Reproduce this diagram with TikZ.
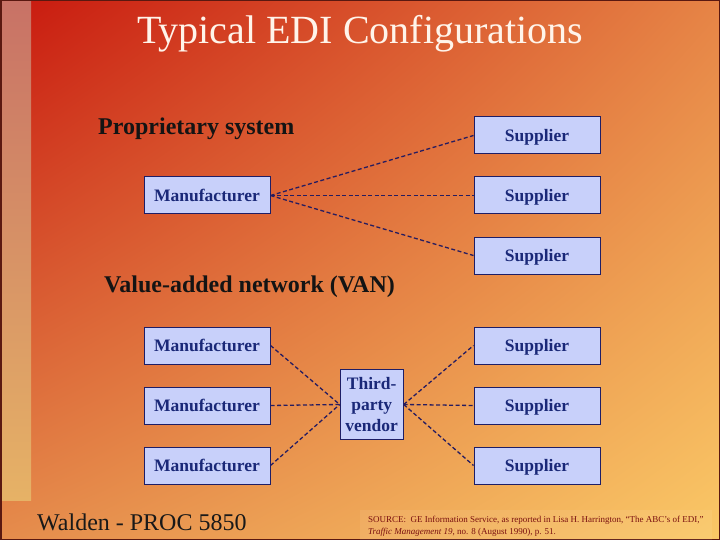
\documentclass[tikz,border=0pt]{standalone}
\usepackage{fontspec}
\setmainfont{Liberation Serif}
\usetikzlibrary{shadings}
\definecolor{bgul}{HTML}{C8180E}
\definecolor{bgur}{HTML}{E68446}
\definecolor{bgll}{HTML}{E58C4C}
\definecolor{bglr}{HTML}{FAC866}
\definecolor{stripetop}{HTML}{C87266}
\definecolor{stripemid}{HTML}{DA9C6E}
\definecolor{stripebot}{HTML}{E6B266}
\definecolor{framec}{HTML}{5A1810}
\definecolor{titlec}{HTML}{FFF4EA}
\definecolor{boxfill}{HTML}{C8D0FA}
\definecolor{boxline}{HTML}{1E1E66}
\definecolor{boxtext}{HTML}{1A2878}
\definecolor{linkc}{HTML}{261C60}
\definecolor{srcc}{HTML}{7A1010}
\begin{document}
\begin{tikzpicture}[x=1pt,y=-1pt,
  box/.style={draw=boxline, fill=boxfill, line width=1pt, minimum width=126pt,
    minimum height=37pt, inner sep=2pt, text=boxtext,
    font=\fontsize{17.5}{21}\selectfont\bfseries},
  onebox/.style={box, text height=11.6pt, text depth=0pt},
  vendorbox/.style={box, minimum width=63pt, minimum height=70pt, align=center,
    inner sep=1pt},
  link/.style={draw=linkc, line width=1.3pt, dash pattern=on 4pt off 2.5pt},
  heading/.style={anchor=base west, inner sep=0pt, text=black!92,
    font=\fontsize{24}{28}\selectfont\bfseries},
  srcline/.style={anchor=base west, inner sep=0pt, text=srcc,
    font=\fontsize{9}{11}\selectfont}]
\useasboundingbox (0,0) rectangle (720,540);
% background
\shade[upper left=bgul, upper right=bgur, lower left=bgll, lower right=bglr]
  (0,0) rectangle (720,540);
\shade[top color=stripetop, middle color=stripemid, bottom color=stripebot]
  (2,2) rectangle (31,500);
\draw[framec, line width=1.5pt] (0.75,0.75) rectangle (719.25,539.25);
% title
\node[anchor=base, inner sep=0pt, text=titlec, font=\fontsize{40}{48}\selectfont]
  (title) at (360,44) {Typical EDI Configurations};
% proprietary system
\node[heading] (prop) at (98,135) {Proprietary system};
\node[onebox] (m0) at (207,195.5) {Manufacturer};
\node[onebox] (s1) at (537,135.5) {Supplier};
\node[onebox] (s2) at (537,195.5) {Supplier};
\node[onebox] (s3) at (537,255.5) {Supplier};
\draw[link] (m0.east) -- (s1.west);
\draw[link] (m0.east) -- (s2.west);
\draw[link] (m0.east) -- (s3.west);
% VAN
\node[heading] (van) at (104,292) {Value-added network (VAN)};
\node[onebox] (m1) at (207,345.5) {Manufacturer};
\node[onebox] (m2) at (207,405.5) {Manufacturer};
\node[onebox] (m3) at (207,465.5) {Manufacturer};
\node[onebox] (s4) at (537,345.5) {Supplier};
\node[onebox] (s5) at (537,405.5) {Supplier};
\node[onebox] (s6) at (537,465.5) {Supplier};
\node[vendorbox] (v) at (371.7,404.5) {Third-\\party\\vendor};
\draw[link] (m1.east) -- (v.west);
\draw[link] (m2.east) -- (v.west);
\draw[link] (m3.east) -- (v.west);
\draw[link] (v.east) -- (s4.west);
\draw[link] (v.east) -- (s5.west);
\draw[link] (v.east) -- (s6.west);
% footer
\node[anchor=base west, inner sep=0pt, text=black!90, font=\fontsize{24}{28}\selectfont]
  (walden) at (37,530) {Walden - PROC 5850};
\fill[white, opacity=0.07] (360,510) rectangle (712,540);
\node[srcline] (src1) at (368,522) {SOURCE:\ \ GE Information Service, as reported in Lisa H. Harrington, ``The ABC's of EDI,''};
\node[srcline] (src2) at (368,534) {\textit{Traffic Management 19}, no. 8 (August 1990), p. 51.};
\end{tikzpicture}
\end{document}
